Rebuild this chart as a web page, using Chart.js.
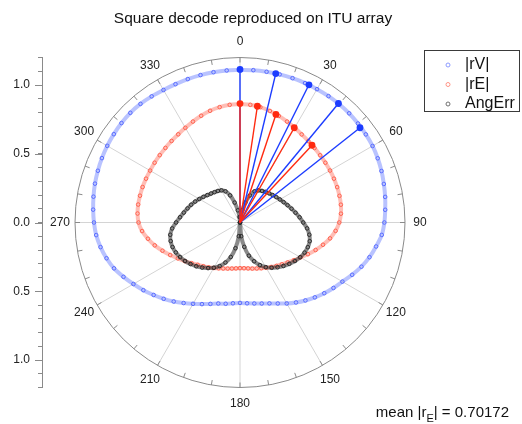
<!DOCTYPE html>
<html>
<head>
<meta charset="utf-8">
<title>Square decode reproduced on ITU array</title>
<script src="https://cdn.jsdelivr.net/npm/chart.js@4.4.1/dist/chart.umd.min.js"></script>
<style>
  html, body { margin: 0; padding: 0; background: #fff; }
  #wrap { width: 522px; height: 424px; }
</style>
</head>
<body>
<div id="wrap"><canvas id="polar" width="522" height="424"></canvas></div>
<script>
// panning angle in degrees (0 = front, clockwise)
var angles = [0, 5, 10, 15, 20, 25, 30, 35, 40, 45, 50, 55, 60, 65, 70, 75, 80, 85, 90,
  95, 100, 105, 110, 115, 120, 125, 130, 135, 140, 145, 150, 155, 160, 165, 170, 175, 180,
  185, 190, 195, 200, 205, 210, 215, 220, 225, 230, 235, 240, 245, 250, 255, 260, 265, 270,
  275, 280, 285, 290, 295, 300, 305, 310, 315, 320, 325, 330, 335, 340, 345, 350, 355, 360];

// |rV| velocity vector magnitude
var rV = [1.11, 1.112, 1.113, 1.115, 1.117, 1.119, 1.12, 1.122, 1.123, 1.123, 1.12, 1.117, 1.113,
  1.105, 1.095, 1.083, 1.072, 1.06, 1.05, 1.035, 1.005, 0.975, 0.94, 0.9, 0.86, 0.83, 0.8, 0.77,
  0.74, 0.71, 0.68, 0.65, 0.626, 0.61, 0.598, 0.59, 0.585,
  0.59, 0.6, 0.61, 0.63, 0.655, 0.683, 0.715, 0.75, 0.785, 0.82, 0.858, 0.895, 0.935, 0.975,
  1.005, 1.03, 1.05, 1.062, 1.072, 1.082, 1.092, 1.1, 1.108, 1.115, 1.12, 1.125, 1.128, 1.126,
  1.12, 1.113, 1.11, 1.11, 1.11, 1.11, 1.11, 1.11];

// |rE| energy vector magnitude
var rE = [0.862, 0.859, 0.852, 0.84, 0.825, 0.81, 0.795, 0.782, 0.773, 0.766, 0.761, 0.758, 0.756,
  0.754, 0.752, 0.749, 0.745, 0.737, 0.722, 0.698, 0.665, 0.625, 0.585, 0.545, 0.508, 0.478,
  0.452, 0.43, 0.412, 0.395, 0.38, 0.367, 0.356, 0.347, 0.339, 0.334, 0.332,
  0.335, 0.34, 0.347, 0.356, 0.368, 0.382, 0.398, 0.415, 0.435, 0.46, 0.49, 0.522, 0.56, 0.6,
  0.642, 0.68, 0.715, 0.738, 0.748, 0.752, 0.753, 0.754, 0.754, 0.755, 0.758, 0.762, 0.767,
  0.774, 0.783, 0.795, 0.81, 0.826, 0.841, 0.852, 0.859, 0.862];

// angular error
var angErr = [0, 0.04, 0.09, 0.15, 0.21, 0.25, 0.27, 0.28, 0.29, 0.3, 0.31, 0.322, 0.335, 0.35,
  0.368, 0.388, 0.41, 0.435, 0.46, 0.49, 0.512, 0.525, 0.525, 0.518, 0.505, 0.488, 0.468, 0.447,
  0.425, 0.402, 0.375, 0.342, 0.3, 0.25, 0.18, 0.1, 0,
  0.1, 0.19, 0.26, 0.31, 0.35, 0.38, 0.405, 0.428, 0.45, 0.47, 0.488, 0.503, 0.515, 0.522, 0.522,
  0.515, 0.495, 0.465, 0.438, 0.415, 0.395, 0.378, 0.36, 0.342, 0.325, 0.31, 0.298, 0.288, 0.28,
  0.27, 0.25, 0.21, 0.15, 0.09, 0.04, 0];

// example vectors drawn from the origin
var vecAngV = [0, 13.5, 26.6, 39.6, 51.7];
var vecLenV = [1.113, 1.114, 1.12, 1.123, 1.112];
var vecAngE = [0, 8.5, 18.4, 29.8, 43];
var vecLenE = [0.865, 0.855, 0.828, 0.794, 0.768];

var angleTicks = [0, 30, 60, 90, 120, 150, 180, 210, 240, 270, 300, 330];
var radialTicks = [-1, -0.5, 0, 0.5, 1];
var rMax = 1.2;
var meanRE = '0.70172';
var titleText = 'Square decode reproduced on ITU array';

var FONT = '"Liberation Sans", Arial, Helvetica, sans-serif';

function toXY(deg, r) {
  var t = deg * Math.PI / 180;
  return { x: r * Math.sin(t), y: r * Math.cos(t) };
}

function curve(label, vals, line, mark, order) {
  return {
    label: label,
    data: angles.map(function (a, i) { return toXY(a, vals[i]); }),
    showLine: true,
    tension: 0.3,
    borderColor: line,
    borderWidth: 4,
    pointRadius: 1.8,
    pointBorderWidth: 1,
    pointBorderColor: mark,
    pointBackgroundColor: 'rgba(0,0,0,0)',
    order: order
  };
}

function vectors(angs, lens, colour, order) {
  return angs.map(function (a, i) {
    return {
      label: '',
      data: [{ x: 0, y: 0 }, toXY(a, lens[i])],
      showLine: true,
      borderColor: colour,
      borderWidth: 1.4,
      pointRadius: [0, 3.4],
      pointBorderWidth: 0,
      pointBackgroundColor: colour,
      order: order
    };
  });
}

var series = [
  curve('|rV|', rV, 'rgba(115,135,255,0.5)', 'rgba(80,100,255,0.9)', 5),
  curve('|rE|', rE, 'rgba(255,125,110,0.5)', 'rgba(255,90,70,0.9)', 4),
  curve('AngErr', angErr, 'rgba(60,60,60,0.6)', 'rgba(35,35,35,0.9)', 3)
];
var legendMarks = ['#8d9bff', '#ff9486', '#707070'];

function centre(chart) {
  var xs = chart.scales.x, ys = chart.scales.y;
  var cy = ys.getPixelForValue(0);
  return { x: xs.getPixelForValue(0), y: cy, R: cy - ys.getPixelForValue(rMax) };
}

var polarFrame = {
  id: 'polarFrame',
  beforeDatasetsDraw: function (chart) {
    var ctx = chart.ctx, c = centre(chart);
    ctx.save();
    ctx.lineWidth = 1;
    ctx.strokeStyle = '#d4d4d4';
    angleTicks.forEach(function (a) {
      var t = a * Math.PI / 180;
      ctx.beginPath();
      ctx.moveTo(c.x, c.y);
      ctx.lineTo(c.x + c.R * Math.sin(t), c.y - c.R * Math.cos(t));
      ctx.stroke();
    });
    ctx.strokeStyle = '#8a8a8a';
    ctx.beginPath();
    ctx.arc(c.x, c.y, c.R, 0, 2 * Math.PI);
    ctx.stroke();
    for (var d = 0; d < 360; d += 10) {
      var t = d * Math.PI / 180, s = Math.sin(t), k = Math.cos(t);
      ctx.beginPath();
      ctx.moveTo(c.x + c.R * s, c.y - c.R * k);
      ctx.lineTo(c.x + (c.R - 5) * s, c.y - (c.R - 5) * k);
      ctx.stroke();
    }
    ctx.restore();
  },
  afterDraw: function (chart) {
    var ctx = chart.ctx, c = centre(chart), ys = chart.scales.y;
    ctx.save();

    // title
    ctx.fillStyle = '#111';
    ctx.font = '15.5px ' + FONT;
    ctx.textAlign = 'center';
    ctx.textBaseline = 'middle';
    ctx.fillText(titleText, 253, 18.5);

    // angle labels
    ctx.fillStyle = '#222';
    ctx.font = '12px ' + FONT;
    angleTicks.forEach(function (a) {
      var t = a * Math.PI / 180;
      ctx.fillText(String(a), c.x + (c.R + 15) * Math.sin(t), c.y - (c.R + 16) * Math.cos(t));
    });

    // longer marks for the labelled radial ticks
    ctx.strokeStyle = '#8a8a8a';
    ctx.lineWidth = 1;
    radialTicks.forEach(function (v) {
      var y = Math.round(ys.getPixelForValue(v)) + 0.5;
      ctx.beginPath();
      ctx.moveTo(ys.right - 7, y);
      ctx.lineTo(ys.right, y);
      ctx.stroke();
    });

    // legend
    ctx.fillStyle = '#fff';
    ctx.fillRect(424, 50, 96, 62);
    ctx.strokeStyle = '#3a3a3a';
    ctx.strokeRect(424.5, 50.5, 95, 61);
    ctx.font = '16px ' + FONT;
    ctx.textAlign = 'left';
    series.forEach(function (ds, i) {
      var y = 65 + i * 19.5;
      ctx.strokeStyle = legendMarks[i];
      ctx.beginPath();
      ctx.arc(448, y, 2, 0, 2 * Math.PI);
      ctx.stroke();
      ctx.fillStyle = '#111';
      ctx.fillText(ds.label, 465, y);
    });

    // mean |rE| note
    ctx.textBaseline = 'alphabetic';
    ctx.fillStyle = '#111';
    var big = '15px ' + FONT, small = '11px ' + FONT;
    var p1 = 'mean |r', p2 = 'E', p3 = '| = ' + meanRE;
    ctx.font = big;
    var w1 = ctx.measureText(p1).width, w3 = ctx.measureText(p3).width;
    ctx.font = small;
    var w2 = ctx.measureText(p2).width;
    var x = 509 - (w1 + w2 + w3), base = 417;
    ctx.font = big;
    ctx.fillText(p1, x, base);
    ctx.font = small;
    ctx.fillText(p2, x + w1, base + 5);
    ctx.font = big;
    ctx.fillText(p3, x + w1 + w2, base);
    ctx.restore();
  }
};

var datasets = series
  .concat(vectors(vecAngV, vecLenV, '#1c3cff', 2))
  .concat(vectors(vecAngE, vecLenE, '#ff2a10', 1));

new Chart(document.getElementById('polar'), {
  type: 'scatter',
  data: { datasets: datasets },
  options: {
    responsive: false,
    devicePixelRatio: 1,
    animation: false,
    events: [],
    layout: { padding: { left: 0, right: 84, top: 57.5, bottom: 36.5 } },
    scales: {
      x: { type: 'linear', display: false, min: -1.44, max: 1.44 },
      y: {
        type: 'linear',
        position: 'left',
        min: -rMax,
        max: rMax,
        afterFit: function (s) { s.width = 42; },
        border: { color: '#8a8a8a' },
        grid: { drawOnChartArea: false, tickLength: 4, color: '#8a8a8a' },
        ticks: {
          stepSize: 0.1,
          autoSkip: false,
          padding: 8,
          color: '#222',
          font: { family: FONT, size: 12 },
          callback: function (v) {
            var n = Math.round(v * 10);
            return n % 5 === 0 ? Math.abs(n / 10).toFixed(1) : '';
          }
        }
      }
    },
    plugins: {
      legend: { display: false },
      tooltip: { enabled: false },
      title: { display: false }
    }
  },
  plugins: [polarFrame]
});
</script>
</body>
</html>
